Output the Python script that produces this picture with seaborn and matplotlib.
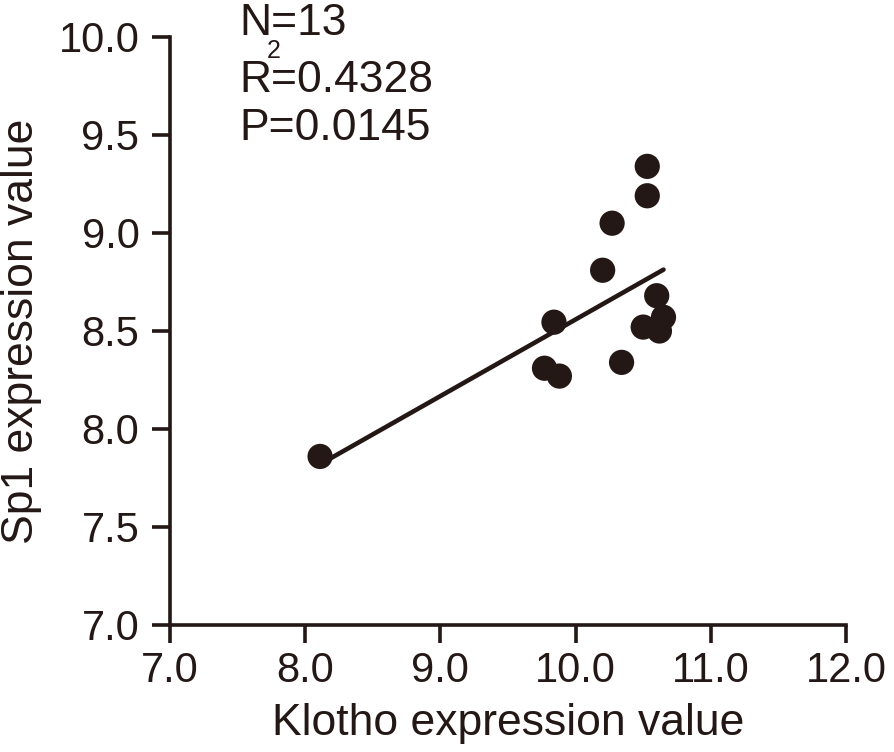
import seaborn as sns
import matplotlib.pyplot as plt
import numpy as np

# Data
klotho = [8.11, 9.77, 9.88, 9.84, 10.20, 10.27, 10.34, 10.53, 10.53, 10.60, 10.50, 10.65, 10.62]
sp1 = [7.86, 8.31, 8.27, 8.545, 8.81, 9.05, 8.34, 9.34, 9.19, 8.68, 8.52, 8.57, 8.50]
x_ticks = [7.0, 8.0, 9.0, 10.0, 11.0, 12.0]
y_ticks = [7.0, 7.5, 8.0, 8.5, 9.0, 9.5, 10.0]
stats_lines = ["N=13", "R=0.4328", "P=0.0145"]

ink = "#231815"

sns.set_style("ticks")
plt.rcParams["font.family"] = ["Liberation Sans", "DejaVu Sans"]

W, H = 894, 752
fig = plt.figure(figsize=(W / 100, H / 100), dpi=100)
ax = fig.add_axes([170 / W, 1 - 625 / H, (846 - 170) / W, (625 - 37) / H])

sns.regplot(
    x=klotho, y=sp1, ax=ax, ci=None, truncate=True,
    scatter_kws=dict(s=330, color=ink, edgecolor="none", alpha=1, zorder=3),
    line_kws=dict(color=ink, linewidth=3.3, zorder=2),
)

ax.set_xlim(7.0, 12.0)
ax.set_ylim(7.0, 10.0)
ax.set_xticks(x_ticks)
ax.set_yticks(y_ticks)
ax.set_xticklabels([f"{v:.1f}" for v in x_ticks])
ax.set_yticklabels([f"{v:.1f}" for v in y_ticks])
ax.tick_params(axis="both", colors=ink, labelcolor=ink, labelsize=30,
               width=2.6, length=13)
ax.tick_params(axis="y", pad=9)
ax.tick_params(axis="x", pad=6)
for side in ["top", "right"]:
    ax.spines[side].set_visible(False)
for side in ["left", "bottom"]:
    ax.spines[side].set_linewidth(2.6)
    ax.spines[side].set_color(ink)

ax.set_xlabel("Klotho expression value", fontsize=32, color=ink, labelpad=8)
ax.set_ylabel("Sp1 expression value", fontsize=32, color=ink, labelpad=12)

# statistics block in the upper left, partly above the axes
baselines = [35, 92, 140]
for txt, yb in zip(stats_lines, baselines):
    fig.text(239 / W, 1 - yb / H, txt, fontsize=32, color=ink, va="baseline", ha="left")
fig.text(267 / W, 1 - 58 / H, "2", fontsize=18, color=ink, va="baseline", ha="left")

fig.savefig("out.png", dpi=100)
plt.close(fig)
